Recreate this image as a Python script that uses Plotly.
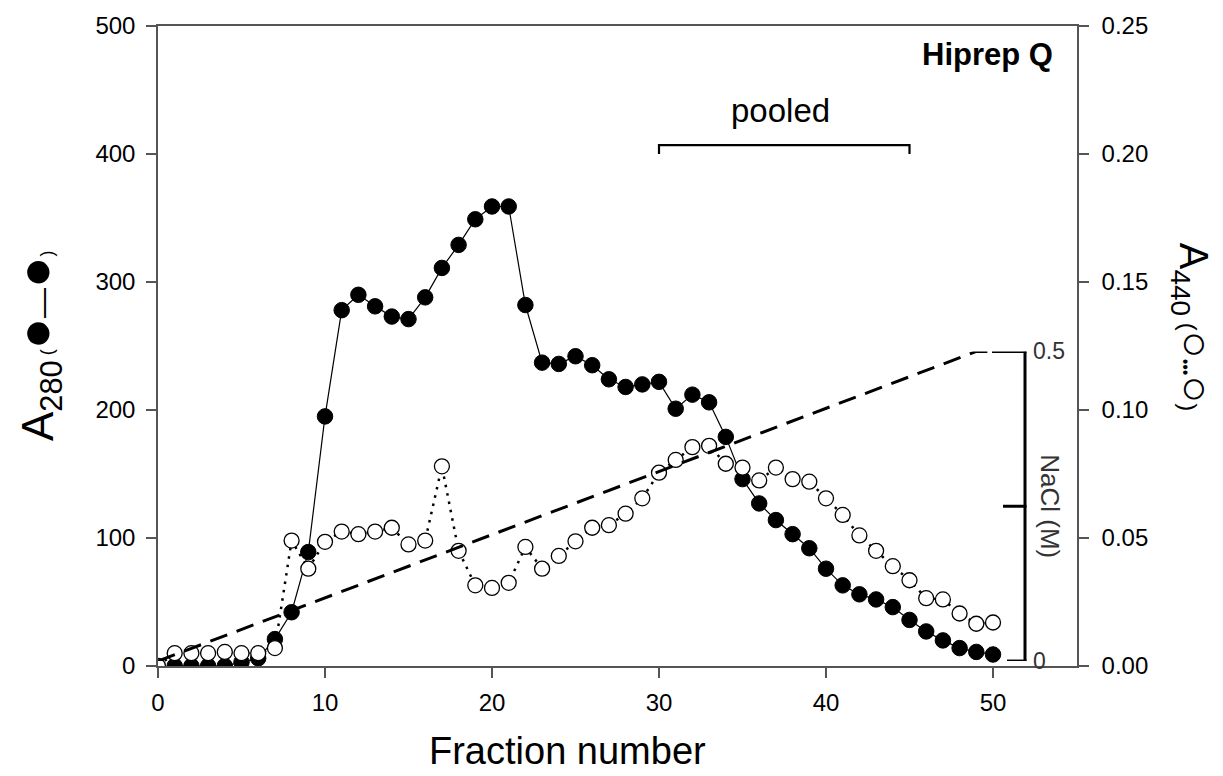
import plotly.graph_objects as go

# ---- data ----
frac_a280 = list(range(1, 51))
a280 = [0, 0, 0, 0, 3, 6, 21, 42, 89, 195,
        278, 290, 281, 273, 271, 288, 311, 329, 349, 359,
        359, 282, 237, 236, 242, 235, 224, 218, 220, 222,
        201, 212, 206, 179, 146, 127, 114, 103, 92, 76,
        63, 56, 52, 46, 36, 27, 20, 14, 11, 9]

frac_a440 = list(range(0, 51))
a440 = [0.000, 0.005, 0.005, 0.005, 0.0055, 0.005, 0.005, 0.007, 0.049, 0.038,
        0.0485, 0.0525, 0.0515, 0.0525, 0.054, 0.0475, 0.049, 0.078, 0.045, 0.0315,
        0.0305, 0.0325, 0.0465, 0.038, 0.043, 0.0487, 0.054, 0.055, 0.0595, 0.0655,
        0.0755, 0.0805, 0.0855, 0.086, 0.079, 0.0775, 0.0725, 0.0775, 0.073, 0.072,
        0.0655, 0.059, 0.051, 0.045, 0.039, 0.0335, 0.0265, 0.026, 0.0205, 0.0165,
        0.017]

grad_frac = [0, 49, 50]
grad_nacl = [0.0, 0.5, 0.5]

nacl_ticks = [0.0, 0.25, 0.5]
nacl_tick_labels = ["0", "", "0.5"]

pooled_range = [30, 45]
pooled_bracket_y = [407, 400]

x_ticks = [0, 10, 20, 30, 40, 50]
y_left_ticks = [0, 100, 200, 300, 400, 500]
y_right_ticks = [0.0, 0.05, 0.10, 0.15, 0.20, 0.25]
y_right_labels = ["0.00", "0.05", "0.10", "0.15", "0.20", "0.25"]

FONT = "Arial, Liberation Sans, sans-serif"
AX = "#555555"

# layout geometry (pixels) -> paper fractions
PLOT_L, PLOT_R = 158, 1077
def px(xpix):
    return (xpix - PLOT_L) / (PLOT_R - PLOT_L)

NACL_AXIS_X = px(1025)
nacl_tick_len_px = [18, 22, 33]   # style: bottom, middle, top

fig = go.Figure()

# NaCl gradient (dashed) on its own short axis
fig.add_trace(go.Scatter(
    x=grad_frac, y=grad_nacl, mode="lines", yaxis="y3",
    line=dict(color="black", width=3, dash="18px,10px"),
    hoverinfo="skip", showlegend=False))

# A440 open circles, dotted
fig.add_trace(go.Scatter(
    x=frac_a440, y=a440, mode="lines+markers", yaxis="y2",
    line=dict(color="black", width=2.5, dash="2.5px,6px"),
    marker=dict(symbol="circle", size=15, color="white",
                line=dict(color="black", width=1.3)),
    showlegend=False))

# A280 filled circles, solid
fig.add_trace(go.Scatter(
    x=frac_a280, y=a280, mode="lines+markers", yaxis="y",
    line=dict(color="black", width=1.2),
    marker=dict(symbol="circle", size=15.5, color="black",
                line=dict(color="black", width=1)),
    showlegend=False))

# pooled bracket
fig.add_shape(type="path", xref="x", yref="y",
              path=(f"M {pooled_range[0]},{pooled_bracket_y[1]} L {pooled_range[0]},{pooled_bracket_y[0]} "
                    f"L {pooled_range[1]},{pooled_bracket_y[0]} L {pooled_range[1]},{pooled_bracket_y[1]}"),
              line=dict(color="black", width=2.2))

# NaCl scale bracket: vertical line + ticks
fig.add_shape(type="line", xref="paper", yref="y3",
              x0=NACL_AXIS_X, x1=NACL_AXIS_X, y0=nacl_ticks[0], y1=nacl_ticks[-1],
              line=dict(color="black", width=3))
for v, L in zip(nacl_ticks, nacl_tick_len_px):
    fig.add_shape(type="line", xref="paper", yref="y3",
                  x0=NACL_AXIS_X - L / (PLOT_R - PLOT_L), x1=NACL_AXIS_X + 1.5 / (PLOT_R - PLOT_L),
                  y0=v, y1=v, line=dict(color="black", width=3))

annotations = [
    dict(text="pooled", x=sum(pooled_range) / 2, y=pooled_bracket_y[0], xref="x", yref="y",
         yanchor="bottom", yshift=14, xshift=-4, showarrow=False,
         font=dict(family=FONT, size=33, color="black")),
    dict(text="<b>Hiprep Q</b>", x=px(1055), y=(666 - 50) / 645,
         xref="paper", yref="paper", xanchor="right", yanchor="middle",
         showarrow=False, font=dict(family=FONT, size=31, color="black")),
    dict(text="Fraction number", x=25, y=0, xref="x", yref="paper", yanchor="top",
         yshift=-62, xshift=-8, showarrow=False, font=dict(family=FONT, size=38, color="black")),
    dict(text="A<sub>280</sub><span style='font-size:18px'> (</span>"
              "<span style='font-size:52px'>●</span><span style='font-size:30px'>—</span>"
              "<span style='font-size:52px'>●</span><span style='font-size:18px'>)</span>",
         x=-0.168, y=0.50, xref="paper", yref="paper", textangle=-90,
         showarrow=False, font=dict(family=FONT, size=44, color="black")),
    dict(text="A<sub>440</sub><span style='font-size:24px'> (</span>"
              "<span style='font-size:46px'>○</span><span style='font-size:16px'>•••</span>"
              "<span style='font-size:46px'>○</span><span style='font-size:24px'>)</span>",
         x=1.160, y=0.53, xref="paper", yref="paper", textangle=90,
         showarrow=False, font=dict(family=FONT, size=40, color="black")),
    dict(text="NaCl (M)", x=px(1033), y=0.25, xref="paper", yref="y3",
         xanchor="left", textangle=90, showarrow=False,
         font=dict(family=FONT, size=26, color="#333333")),
]
for v, t in zip(nacl_ticks, nacl_tick_labels):
    if t:
        annotations.append(dict(text=t, x=px(1031), y=v, xref="paper", yref="y3",
                                xanchor="left", yanchor="middle", showarrow=False,
                                font=dict(family=FONT, size=23, color="#333333")))

fig.update_layout(
    width=1223, height=776,
    margin=dict(l=PLOT_L, r=1223 - PLOT_R, t=21, b=110),
    paper_bgcolor="white", plot_bgcolor="rgba(0,0,0,0)",
    font=dict(family=FONT, size=24, color="black"),
    annotations=annotations,
    xaxis=dict(range=[0, 55.03], tickvals=x_ticks, showgrid=False, zeroline=False,
               showline=True, linecolor=AX, linewidth=1.5, mirror=True,
               ticks="outside", ticklen=10, tickcolor=AX, tickwidth=1.5,
               ticklabelstandoff=4, tickfont=dict(size=24)),
    yaxis=dict(range=[0, 500], tickvals=y_left_ticks, showgrid=False, zeroline=False,
               showline=True, linecolor=AX, linewidth=1.5,
               ticks="outside", ticklen=10, tickcolor=AX, tickwidth=1.5,
               ticklabelstandoff=6, tickfont=dict(size=24)),
    yaxis2=dict(range=[0, 0.25], tickvals=y_right_ticks, ticktext=y_right_labels,
                overlaying="y", side="right", showgrid=False, zeroline=False,
                showline=True, linecolor=AX, linewidth=1.5,
                ticks="outside", ticklen=10, tickcolor=AX, tickwidth=1.5,
                ticklabelstandoff=8, tickfont=dict(size=24)),
    yaxis3=dict(range=[0, 0.5], domain=[(666 - 661) / 645, (666 - 349) / 645],
                anchor="free", position=NACL_AXIS_X, side="right",
                showgrid=False, zeroline=False, showline=False,
                showticklabels=False, ticks=""),
)

fig.write_html("out.html")
